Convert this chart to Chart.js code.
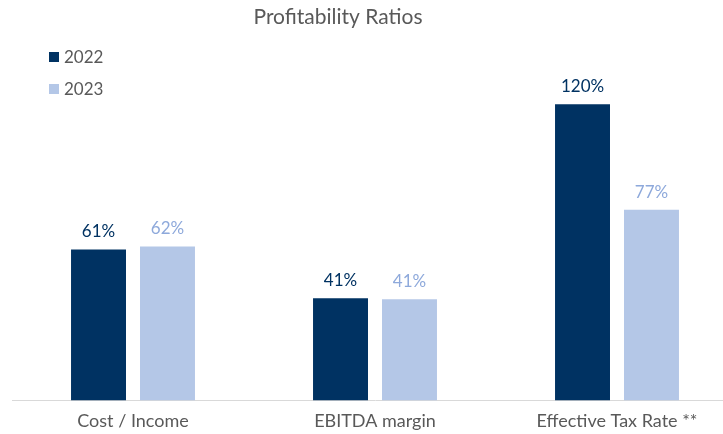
<!DOCTYPE html>
<html>
  <head>
    <title>Profitability Ratios</title>
    <script src="https://cdn.jsdelivr.net/npm/chart.js"></script>
    <style>
      html, body { margin: 0; padding: 0; overflow: hidden; background: #fff; }
    </style>
  </head>
  <body>
    <canvas id="ratioChart" width="740" height="444"></canvas>
    <script>
      const categories = ["Cost / Income", "EBITDA margin", "Effective Tax Rate **"];
      const years = ["2022", "2023"];
      const values2022 = [61.2, 41.4, 120.0];
      const values2023 = [62.4, 41.0, 77.3];
      const barColors = ["#003262", "#B4C7E7"];
      const labelColors = ["#003262", "#8EA9DB"];
      const fontFamily = "Lato, 'DejaVu Sans', sans-serif";

      // title + legend + value labels drawn on the canvas
      const overlay = {
        id: "overlay",
        afterDatasetsDraw(chart) {
          const ctx = chart.ctx;
          ctx.save();
          ctx.textAlign = "center";
          ctx.textBaseline = "alphabetic";
          ctx.font = "17px " + fontFamily;
          chart.data.datasets.forEach((ds, i) => {
            chart.getDatasetMeta(i).data.forEach((bar, j) => {
              ctx.fillStyle = labelColors[i];
              ctx.fillText(Math.round(ds.data[j]) + "%", bar.x, bar.y - 12);
            });
          });

          ctx.fillStyle = "#595959";
          ctx.font = "21px " + fontFamily;
          ctx.textBaseline = "middle";
          ctx.fillText("Profitability Ratios", 338, 17);

          ctx.textAlign = "left";
          ctx.font = "17px " + fontFamily;
          years.forEach((y, i) => {
            const cy = 57 + i * 32;
            ctx.fillStyle = barColors[i];
            ctx.fillRect(49, cy - 5, 10, 10);
            ctx.fillStyle = "#595959";
            ctx.fillText(y, 64, cy + 1);
          });
          ctx.restore();
        },
      };

      const ctx = document.getElementById("ratioChart").getContext("2d");
      new Chart(ctx, {
        type: "bar",
        data: {
          labels: categories,
          datasets: [
            {
              label: years[0],
              data: values2022,
              backgroundColor: barColors[0],
              categoryPercentage: 0.57,
              barPercentage: 0.797,
            },
            {
              label: years[1],
              data: values2023,
              backgroundColor: barColors[1],
              categoryPercentage: 0.57,
              barPercentage: 0.797,
            },
          ],
        },
        options: {
          responsive: false,
          animation: false,
          layout: { padding: { left: 12, right: 2, top: 55, bottom: 2 } },
          plugins: {
            legend: { display: false },
            title: { display: false },
            tooltip: { enabled: false },
          },
          scales: {
            x: {
              grid: { display: false, drawTicks: false },
              border: { color: "#D9D9D9", width: 1 },
              ticks: {
                color: "#595959",
                font: { family: fontFamily, size: 18 },
                padding: 10,
                maxRotation: 0,
              },
            },
            y: {
              display: false,
              min: 0,
              max: 140,
            },
          },
        },
        plugins: [overlay],
      });
    </script>
  </body>
</html>
